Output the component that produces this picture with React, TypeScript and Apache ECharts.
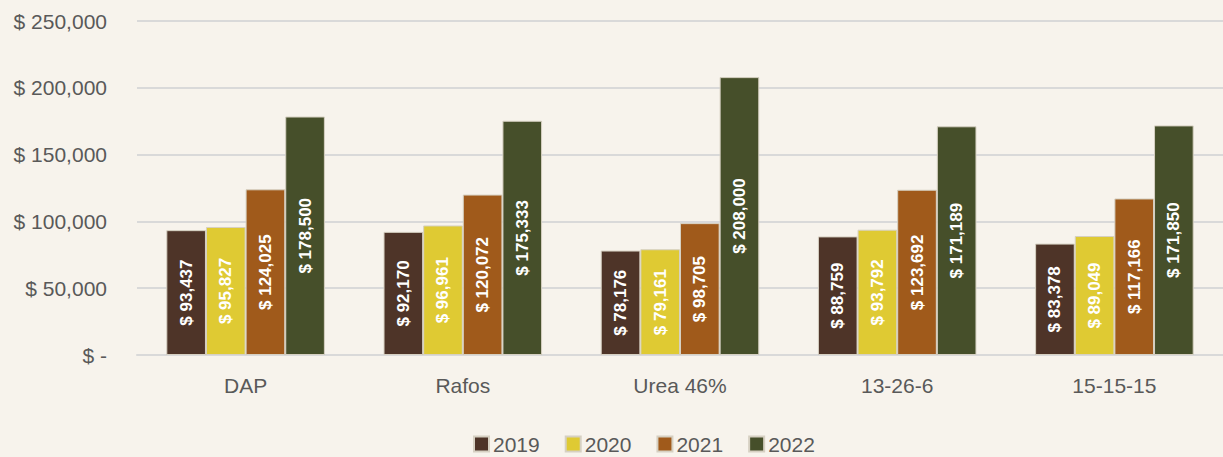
import React, { useEffect, useRef } from "react";
import * as echarts from "echarts";

const categories = ["DAP", "Rafos", "Urea 46%", "13-26-6", "15-15-15"];
const seriesNames = ["2019", "2020", "2021", "2022"];
const values2019 = [93437, 92170, 78176, 88759, 83378];
const values2020 = [95827, 96961, 79161, 93792, 89049];
const values2021 = [124025, 120072, 98705, 123692, 117166];
const values2022 = [178500, 175333, 208000, 171189, 171850];
const colors = ["#4e3428", "#dfca33", "#a05a1b", "#464f2a"];

const FONT = "Liberation Sans, Arial, sans-serif";
const fmt = (v: number) => "$ " + v.toLocaleString("en-US");

export default function App() {
  const ref = useRef<HTMLDivElement>(null);
  useEffect(() => {
    if (!ref.current) return;
    const chart = echarts.init(ref.current, undefined, { renderer: "svg" });
    const data = [values2019, values2020, values2021, values2022];
    chart.setOption({
      animation: false,
      backgroundColor: "#f7f3ec",
      grid: { left: 137, width: 1090, top: 21, bottom: 102 },
      legend: {
        top: 433,
        left: 468,
        padding: [0, 5, 0, 5],
        itemWidth: 15,
        itemHeight: 15,
        itemGap: 25,
        icon: "rect",
        textStyle: { fontFamily: FONT, fontSize: 21, lineHeight: 22, color: "#595959", padding: [0, 0, 0, -1] },
        data: seriesNames,
      },
      xAxis: {
        type: "category",
        data: categories,
        axisTick: { show: false },
        axisLine: { lineStyle: { color: "#d9d9d9", width: 2 } },
        axisLabel: { fontFamily: FONT, fontSize: 21, color: "#595959", margin: 20 },
      },
      yAxis: {
        type: "value",
        min: 0,
        max: 250000,
        interval: 50000,
        axisLabel: {
          fontFamily: FONT,
          fontSize: 21,
          color: "#595959",
          margin: 30,
          formatter: (v: number) => (v === 0 ? "$ -" : fmt(v)),
        },
        splitLine: { lineStyle: { color: "#d9d9d9", width: 2 } },
      },
      series: seriesNames.map((name, i) => ({
        name,
        type: "bar",
        data: data[i],
        barGap: "0%",
        barCategoryGap: "27%",
        itemStyle: { color: colors[i], borderColor: "#d6d0c2", borderWidth: 1 },
        label: {
          show: true,
          position: "inside",
          rotate: 90,
          color: "#ffffff",
          fontFamily: FONT,
          fontWeight: "bold",
          fontSize: 17,
          formatter: (p: any) => fmt(p.value),
        },
      })),
    });
    return () => chart.dispose();
  }, []);
  return (
    <div
      ref={ref}
      style={{ position: "absolute", left: 0, top: 0, width: 1223, height: 457 }}
    />
  );
}
